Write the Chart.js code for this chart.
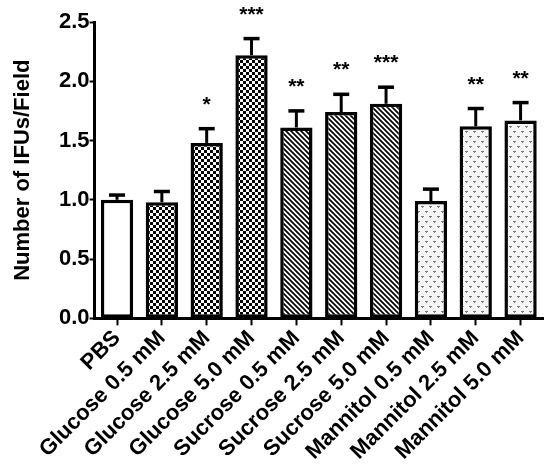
<!DOCTYPE html>
<html>
<head>
<meta charset="utf-8">
<script src="https://cdn.jsdelivr.net/npm/chart.js@4/dist/chart.umd.min.js"></script>
<style>
  body { margin: 0; background: #fff; }
</style>
</head>
<body>
<canvas id="chart" width="550" height="465"></canvas>
<script>
// данные графика
const categories = ['PBS', 'Glucose 0.5 mM', 'Glucose 2.5 mM', 'Glucose 5.0 mM',
    'Sucrose 0.5 mM', 'Sucrose 2.5 mM', 'Sucrose 5.0 mM',
    'Mannitol 0.5 mM', 'Mannitol 2.5 mM', 'Mannitol 5.0 mM'];
const means = [1.00, 0.98, 1.48, 2.22, 1.61, 1.74, 1.81, 0.99, 1.62, 1.67];
const errors = [0.04, 0.09, 0.12, 0.14, 0.14, 0.15, 0.14, 0.10, 0.15, 0.15];
const stars = ['', '', '*', '***', '**', '**', '***', '', '**', '**'];
const groups = ['none', 'glucose', 'glucose', 'glucose', 'sucrose', 'sucrose', 'sucrose',
    'mannitol', 'mannitol', 'mannitol'];
const yTicks = [0, 0.5, 1.0, 1.5, 2.0, 2.5];

const FONT = "'Liberation Sans', Arial, sans-serif";

// узоры заливки
function makePattern(w, h, draw) {
    const c = document.createElement('canvas');
    c.width = w;
    c.height = h;
    const g = c.getContext('2d');
    draw(g, w, h);
    return g.createPattern(c, 'repeat');
}

const checker = makePattern(6, 6, (g) => {
    g.fillStyle = '#fff';
    g.fillRect(0, 0, 6, 6);
    g.fillStyle = '#000';
    g.fillRect(0, 0, 3, 3);
    g.fillRect(3, 3, 3, 3);
});

const hatch = makePattern(5, 5, (g) => {
    g.fillStyle = '#fff';
    g.fillRect(0, 0, 5, 5);
    g.strokeStyle = '#000';
    g.lineWidth = 1.7;
    g.beginPath();
    g.moveTo(-1, -1); g.lineTo(6, 6);
    g.moveTo(-1, 4); g.lineTo(1, 6);
    g.moveTo(4, -1); g.lineTo(6, 1);
    g.stroke();
});

const dots = makePattern(8, 10, (g) => {
    g.fillStyle = '#f6f6f6';
    g.fillRect(0, 0, 8, 10);
    g.fillStyle = '#7a7a7a';
    g.fillRect(1, 1, 3, 1);
    g.fillRect(2, 2, 1, 1);
    g.fillRect(5, 6, 3, 1);
    g.fillRect(6, 7, 1, 1);
});

const fills = { none: '#fff', glucose: checker, sucrose: hatch, mannitol: dots };

// планки ошибок и звёздочки
const errorBars = {
    id: 'errorBars',
    afterDatasetsDraw(chart) {
        const ctx = chart.ctx;
        const y = chart.scales.y;
        const meta = chart.getDatasetMeta(0);
        ctx.save();
        ctx.strokeStyle = '#000';
        ctx.fillStyle = '#000';
        meta.data.forEach((bar, i) => {
            const top = y.getPixelForValue(means[i] + errors[i]);
            ctx.lineWidth = 3;
            ctx.beginPath();
            ctx.moveTo(bar.x, bar.y);
            ctx.lineTo(bar.x, top);
            ctx.stroke();
            ctx.lineWidth = 3.5;
            ctx.beginPath();
            ctx.moveTo(bar.x - 8, top);
            ctx.lineTo(bar.x + 8, top);
            ctx.stroke();
            if (stars[i]) {
                ctx.font = 'bold 21px ' + FONT;
                ctx.textAlign = 'center';
                ctx.textBaseline = 'alphabetic';
                ctx.fillText(stars[i], bar.x, top - 18);
            }
        });
        ctx.restore();
    }
};

new Chart(document.getElementById('chart'), {
    type: 'bar',
    data: {
        labels: categories,
        datasets: [{
            data: means,
            backgroundColor: groups.map(g => fills[g]),
            borderColor: '#000',
            borderWidth: 3.5,
            borderSkipped: false,
            barPercentage: 0.72,
            categoryPercentage: 1.0
        }]
    },
    options: {
        responsive: false,
        animation: false,
        devicePixelRatio: 1,
        layout: { padding: { top: 22, right: 7, left: 0, bottom: 0 } },
        plugins: {
            legend: { display: false },
            tooltip: { enabled: false }
        },
        scales: {
            x: {
                grid: {
                    offset: false,
                    drawOnChartArea: false,
                    drawTicks: true,
                    tickLength: 7,
                    tickWidth: 2,
                    tickColor: '#000'
                },
                border: { color: '#000', width: 3 },
                ticks: {
                    color: '#000',
                    font: { family: FONT, size: 22, weight: 'bold' },
                    minRotation: 45,
                    maxRotation: 45,
                    padding: 0,
                    autoSkip: false
                }
            },
            y: {
                min: 0,
                max: 2.5,
                afterBuildTicks(scale) {
                    scale.ticks = yTicks.map(v => ({ value: v }));
                },
                grid: {
                    drawOnChartArea: false,
                    drawTicks: true,
                    tickLength: 5,
                    tickWidth: 2,
                    tickColor: '#000'
                },
                border: { color: '#000', width: 3 },
                ticks: {
                    color: '#000',
                    font: { family: FONT, size: 22, weight: 'bold' },
                    padding: 0,
                    callback: v => Number(v).toFixed(1)
                },
                title: {
                    display: true,
                    text: 'Number of IFUs/Field',
                    color: '#000',
                    font: { family: FONT, size: 22, weight: 'bold', lineHeight: 1 },
                    padding: { top: 12, bottom: 25 }
                }
            }
        }
    },
    plugins: [errorBars]
});
</script>
</body>
</html>
